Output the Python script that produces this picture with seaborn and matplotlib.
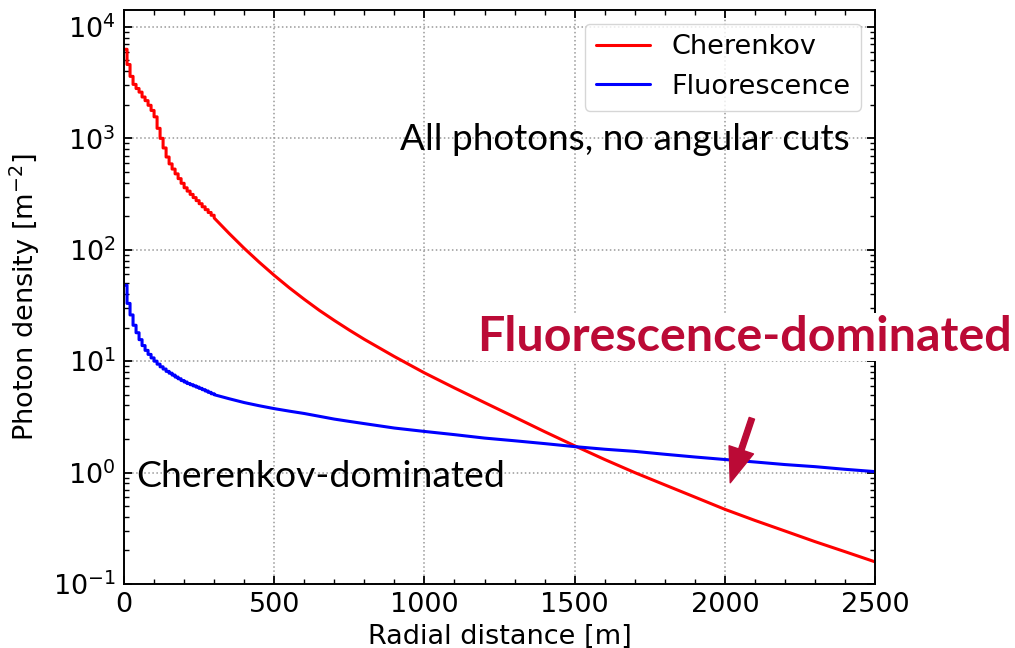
import numpy as np
import pandas as pd
import matplotlib
matplotlib.use("Agg")
import matplotlib.pyplot as plt
from matplotlib.ticker import MultipleLocator, LogLocator
from matplotlib.patches import FancyArrowPatch
import seaborn as sns

# Near-core histogram bins (10 m wide): left edges plus the closing edge
near_edges = [0, 10, 20, 30, 40, 50, 60, 70, 80, 90, 100, 110, 120, 130, 140,
              150, 160, 170, 180, 190, 200, 210, 220, 230, 240, 250, 260, 270,
              280, 290, 300]
cherenkov_near = [6300, 4600, 3600, 3050, 2800, 2600, 2350, 2180, 1980, 1780,
                  1560, 1230, 1000, 820, 680, 590, 530, 480, 435, 395,
                  360, 336, 314, 294, 276, 259, 243, 229, 216, 204]
fluor_near = [48, 33, 26, 21, 18, 15.6, 13.8, 12.5, 11.5, 10.7,
              10.0, 9.4, 8.9, 8.5, 8.1, 7.8, 7.5, 7.2, 6.95, 6.7,
              6.5, 6.3, 6.15, 6.0, 5.85, 5.7, 5.55, 5.4, 5.25, 5.1]

# Outer profile (radius in m)
far_r = [300, 350, 400, 450, 500, 550, 600, 650, 700, 750, 800, 900, 1000,
         1100, 1200, 1300, 1400, 1500, 1600, 1700, 1800, 1900, 2000, 2100,
         2200, 2300, 2400, 2500]
cherenkov_far = [193, 140, 103, 77.3, 58.9, 45.6, 35.9, 28.6, 23.2, 19.0,
                 15.7, 11.0, 7.85, 5.75, 4.25, 3.15, 2.33, 1.74, 1.31, 1.0,
                 0.776, 0.603, 0.468, 0.372, 0.299, 0.240, 0.195, 0.158]
fluor_far = [5.0, 4.6, 4.25, 3.98, 3.75, 3.56, 3.39, 3.20, 3.02, 2.88, 2.75,
             2.51, 2.34, 2.19, 2.04, 1.93, 1.82, 1.71, 1.62, 1.55, 1.46,
             1.38, 1.31, 1.245, 1.18, 1.13, 1.07, 1.02]

series_names = ["Cherenkov", "Fluorescence"]
series_colors = {"Cherenkov": "#ff0000", "Fluorescence": "#0000ff"}


def profile(edges, near_vals, r_far, far_vals):
    """Histogram steps near the core joined to the smooth outer profile."""
    edges = np.asarray(edges, dtype=float)
    near_vals = np.asarray(near_vals, dtype=float)
    xs = np.repeat(edges, 2)[1:-1]
    ys = np.repeat(near_vals, 2)
    return (np.concatenate([xs, np.asarray(r_far, float)]),
            np.concatenate([ys, np.asarray(far_vals, float)]))


frames = []
for name, nv, fv in [("Cherenkov", cherenkov_near, cherenkov_far),
                     ("Fluorescence", fluor_near, fluor_far)]:
    x, y = profile(near_edges, nv, far_r, fv)
    frames.append(pd.DataFrame({"r": x, "density": y, "component": name}))
df = pd.concat(frames, ignore_index=True)

sns.set_theme(style="ticks", rc={
    "axes.edgecolor": "black",
    "axes.linewidth": 1.4,
    "axes.labelcolor": "black",
    "text.color": "black",
    "xtick.color": "black",
    "ytick.color": "black",
})
plt.rcParams["font.family"] = ["DejaVu Sans"]
plt.rcParams["mathtext.fontset"] = "dejavusans"

fig = plt.figure(figsize=(10.15, 6.48), dpi=100)
ax = fig.add_axes([0.1222, 0.0988, 0.7399, 0.8858])

sns.lineplot(data=df, x="r", y="density", hue="component",
             hue_order=series_names, palette=series_colors,
             estimator=None, sort=False, linewidth=2.2, ax=ax)

ax.set_yscale("log")
ax.set_xlim(0, 2500)
ax.set_ylim(0.1, 1.42e4)
ax.xaxis.set_major_locator(MultipleLocator(500))
ax.xaxis.set_minor_locator(MultipleLocator(100))
ax.yaxis.set_major_locator(LogLocator(base=10))
ax.yaxis.set_minor_locator(LogLocator(base=10, subs=np.arange(2, 10)))

ax.tick_params(which="both", direction="in", top=True, right=True)
ax.tick_params(which="major", length=6, width=1.3, labelsize=19.5, pad=6,
               labelcolor="black")
ax.tick_params(which="minor", length=3.5, width=1.0)
ax.grid(True, which="major", linestyle=":", color="0.6", linewidth=1.1)
for s in ax.spines.values():
    s.set_color("black")
    s.set_linewidth(1.4)

ax.set_xlabel("Radial distance [m]", fontsize=19.5, labelpad=4, color="black")
ax.set_ylabel("Photon density [m$^{-2}$]", fontsize=19.5, labelpad=8,
              color="black")

leg = ax.legend(loc="upper right", fontsize=19.5, frameon=True,
                handlelength=2.0, borderaxespad=0.5)
leg.get_frame().set_edgecolor("0.8")
for h in leg.get_lines():
    h.set_linewidth(2.2)
for t in leg.get_texts():
    t.set_color("black")

# Annotations
ax.text(918, 787, "All photons, no angular cuts", family="Lato",
        fontsize=26.6, color="black", va="baseline", ha="left")
ax.text(41, 0.746, "Cherenkov-dominated", family="Lato",
        fontsize=26.9, color="black", va="baseline", ha="left")
ax.text(1175, 12.4, "Fluorescence-dominated", family="Lato",
        fontweight="bold", fontsize=34.8, color="#bb0a36", va="baseline",
        ha="left", clip_on=False, zorder=5,
        bbox=dict(facecolor="white", edgecolor="none", pad=1.5))

arrow = FancyArrowPatch((2090, 3.07), (2018, 0.81),
                        arrowstyle="simple,head_length=25,head_width=18.5,tail_width=4",
                        mutation_scale=1, color="#bb0a36", shrinkA=0, shrinkB=0,
                        zorder=6)
ax.add_patch(arrow)

fig.savefig("out.png", dpi=100)
